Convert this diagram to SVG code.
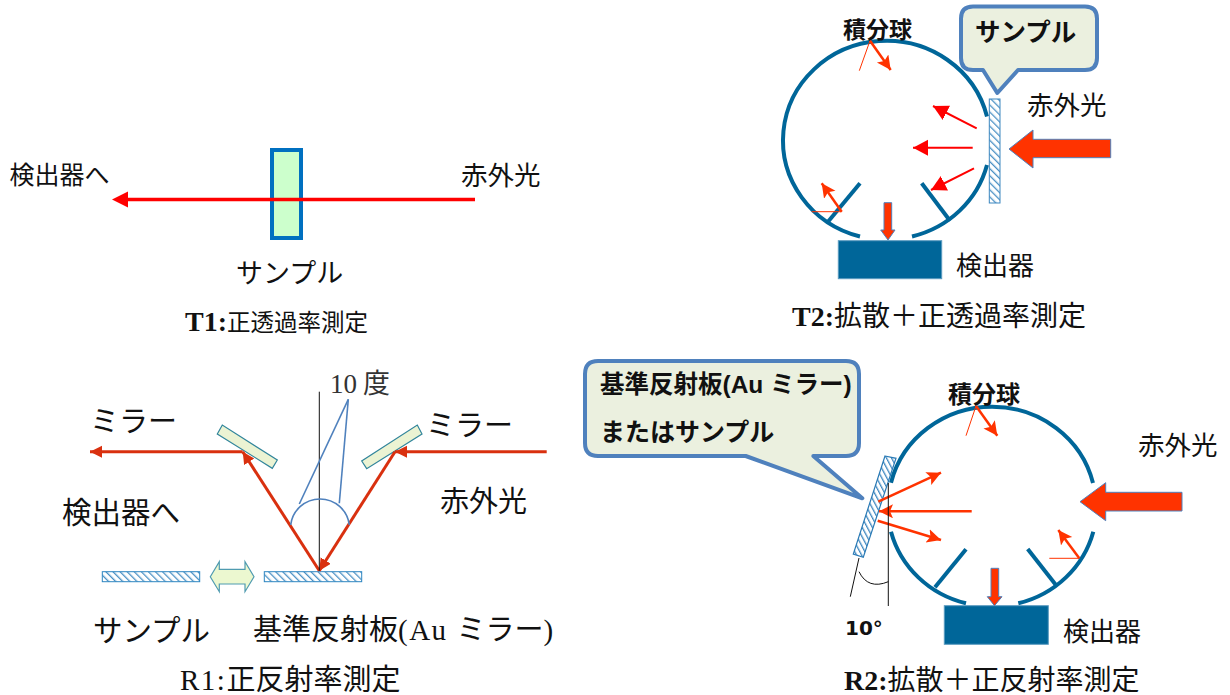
<svg xmlns="http://www.w3.org/2000/svg" width="1230" height="695" viewBox="0 0 1230 695">
<style>
text{font-family:"Noto Sans CJK JP","Noto Sans",sans-serif;fill:#111}
.m{font-family:"Liberation Serif","Noto Sans CJK JP",serif}
.g{font-family:"Liberation Sans","Noto Sans CJK JP",sans-serif}
.b{font-weight:700}
.sph{fill:none;stroke:#006699;stroke-width:4}
.det{fill:#006699;stroke:#5b9bc0;stroke-width:1}
.call{fill:#ebf0df;stroke:#4f81bd;stroke-width:4;stroke-linejoin:round}
.big{fill:#ff3300;stroke:#4f81bd;stroke-width:1}
.r{fill:none;stroke:#ff0000;stroke-width:2;marker-end:url(#ar)}
.o{fill:none;stroke:#ff3300;stroke-width:2.500;marker-end:url(#ao)}
.t{fill:none;stroke:#ff3300;stroke-width:1}
.d{fill:none;stroke:#d9300f;stroke-width:3;marker-end:url(#ad)}
.k{fill:none;stroke:#111;stroke-width:1}
.bl{fill:none;stroke:#4f81bd;stroke-width:1.600}
.mir{fill:#ebf3d3;stroke:#31859b;stroke-width:1.200}
</style>
<defs>
<marker id="ar" markerUnits="userSpaceOnUse" markerWidth="18" markerHeight="18" refX="15" refY="8" orient="auto"><path d="M0 0L15 8L0 16Z" fill="#ff0000"/></marker>
<marker id="am" markerUnits="userSpaceOnUse" markerWidth="18" markerHeight="18" refX="10" refY="8" orient="auto"><path d="M0 0L16 8L0 16Z" fill="#ff0000"/></marker>
<marker id="ao" markerUnits="userSpaceOnUse" markerWidth="16" markerHeight="16" refX="14" refY="7" orient="auto"><path d="M0 0L14 7L0 14L3 7Z" fill="#ff3300"/></marker>
<marker id="ad" markerUnits="userSpaceOnUse" markerWidth="14" markerHeight="14" refX="12" refY="6" orient="auto"><path d="M0 0L12 6L0 12Z" fill="#d9300f"/></marker>
<pattern id="h1" width="5" height="5" patternUnits="userSpaceOnUse" patternTransform="rotate(-45)"><rect width="5" height="5" fill="#fff"/><line x1="0" y1="0" x2="0" y2="5" stroke="#4a90c4" stroke-width="2.600"/></pattern>
<pattern id="h3" width="4.500" height="4.500" patternUnits="userSpaceOnUse" patternTransform="rotate(-28)"><rect width="4.500" height="4.500" fill="#fff"/><line x1="0" y1="0" x2="0" y2="4.500" stroke="#3d87c0" stroke-width="2.600"/></pattern>
</defs>

<g id="t1-sample"><rect x="272" y="150" width="29" height="88" fill="#ccffcc" stroke="#0070c0" stroke-width="4"/></g>
<g id="t1-labels">
<text x="9.500" y="184" font-size="25">検出器へ</text>
<text x="461" y="185" font-size="26.500">赤外光</text>
<text x="236" y="283" font-size="27">サンプル</text>
<text class="m" x="185" y="331" font-size="28"><tspan class="b">T1:</tspan><tspan font-size="23.500">正透過率測定</tspan></text>
</g>

<g id="t2-sphere">
<path class="sph" d="M987 116.500A103.500 99.500 0 1 0 860 236.500"/>
<path class="sph" d="M912 236.500A103.500 99.500 0 0 0 987 165"/>
<path class="sph" d="M860 183.300L828 221.700"/>
<path class="sph" d="M921.700 183.300L950 220.700"/>
</g>
<g id="t2-detector"><rect class="det" x="838.300" y="240.700" width="103.400" height="38"/></g>
<g id="t2-down"><path class="big" d="M884 202.700H891.700V230H895L888 240L880.700 230H884Z"/></g>
<g id="t2-sample"><rect x="989.300" y="99" width="10.700" height="104" fill="url(#h1)" stroke="#3d87c0" stroke-width="1"/></g>
<g id="t2-beam"><path class="big" d="M1009 149L1033 130V139.300H1110.700V157.700H1033V168Z"/></g>
<g id="t2-callout"><path class="call" d="M973 6.500H1085Q1097 6.500 1097 18.500V58Q1097 70 1085 70H1018L997.300 93L983 70H973Q961 70 961 58V18.500Q961 6.500 973 6.500Z"/></g>
<g id="t2-labels">
<text class="b" x="843" y="38" font-size="23">積分球</text>
<text class="b" x="975" y="41" font-size="25.500">サンプル</text>
<text x="1027" y="115" font-size="26.500">赤外光</text>
<text x="956" y="275" font-size="26">検出器</text>
<text class="m" x="792" y="326" font-size="28"><tspan class="b">T2:</tspan>拡散＋正透過率測定</text>
</g>

<g id="r1-mirror-left"><path class="mir" d="M217.300 434L222.300 425L277.300 460L272.300 468.300Z"/></g>
<g id="r1-mirror-right"><path class="mir" d="M361.700 461L366.700 468.700L422 434L417.300 425Z"/></g>
<g id="r1-sample"><rect x="102.300" y="571.700" width="97.400" height="10" fill="url(#h1)" stroke="#2e86c1" stroke-width="1"/></g>
<g id="r1-reference"><rect x="264.300" y="571.700" width="97.400" height="10" fill="url(#h1)" stroke="#2e86c1" stroke-width="1"/></g>
<g id="r1-swap"><path d="M210.300 576.700L219.300 561.700V569.300H245V561.700L254 576.700L245 591.700V584H219.300V591.700Z" fill="#ecf8d0" stroke="#4f9bb0" stroke-width="1.200"/></g>
<g id="r1-labels">
<text x="330" y="393" font-size="27" style="fill:#333"><tspan class="m">10</tspan> 度</text>
<text x="90" y="432" font-size="29">ミラー</text>
<text x="426" y="436" font-size="29">ミラー</text>
<text x="440" y="512" font-size="29">赤外光</text>
<text x="62" y="523" font-size="29.500">検出器へ</text>
<text x="93" y="641" font-size="29.500">サンプル</text>
<text class="m" x="253" y="640" font-size="29">基準反射板<tspan letter-spacing="1.500">(Au </tspan>ミラー)</text>
<text class="m" x="180" y="690" font-size="29"><tspan letter-spacing="1.500">R1:</tspan>正反射率測定</text>
</g>

<g id="r2-callout"><path class="call" d="M598 361H846Q859 361 859 374V443Q859 456 846 456H813.300L862.300 498.300L745.700 456H598Q585 456 585 443V374Q585 361 598 361Z"/></g>
<g id="r2-sample"><path d="M885 456L896 458.300L863.300 557.300L853.300 554Z" fill="url(#h3)" stroke="#2a7ab5" stroke-width="1.200"/></g>
<g id="r2-sphere">
<path class="sph" d="M1093 483A104 100 0 0 0 891 482.700"/>
<path class="sph" d="M891 531.700A104 100 0 0 0 966 603.300"/>
<path class="sph" d="M1018.300 603.300A104 100 0 0 0 1093.300 531.700"/>
<path class="sph" d="M966 549.300L935 587.300"/>
<path class="sph" d="M1027.700 549L1056.700 586"/>
</g>
<g id="r2-detector"><rect class="det" x="944.300" y="605.700" width="104" height="38.600"/></g>
<g id="r2-down"><path class="big" d="M991 568.300H998.700V596.700H1002L994.500 605.700L987.300 596.700H991Z"/></g>
<g id="r2-beam"><path class="big" d="M1080 501.700L1105.700 482.700V492.300H1182V511H1105.700V520.700Z"/></g>
<g id="r2-labels">
<text class="b g" x="600" y="393" font-size="24.500">基準反射板(Au ミラー)</text>
<text class="b g" x="600" y="441" font-size="25">またはサンプル</text>
<text class="b" x="948" y="403" font-size="24">積分球</text>
<text x="1138" y="455" font-size="26.500">赤外光</text>
<text x="1063" y="641" font-size="26">検出器</text>
<text x="845" y="635" font-size="20" font-weight="700" style="font-family:'DejaVu Sans',sans-serif">10°</text>
<text class="m" x="844" y="690" font-size="28"><tspan class="b">R2:</tspan>拡散＋正反射率測定</text>
</g>

<g id="connectors">
<path d="M475 199.500L118 199.500" fill="none" stroke="#ff0000" stroke-width="3.500" marker-end="url(#am)"/>
<path class="r" d="M976.700 128.300L933 106"/>
<path class="r" d="M972.700 147.700L913 147.700"/>
<path class="r" d="M974 168.300L931 190"/>
<path class="t" d="M859.300 70.700L870 40.700"/>
<path class="o" d="M870 40.700L890.700 70"/>
<path class="t" d="M811.700 211.700L841.700 211.700"/>
<path class="o" d="M841.700 211.700L821.700 183.300"/>
<path class="d" d="M546.700 451.700L395 451.700"/>
<path class="d" d="M395 451.700L319.300 570.700"/>
<path class="d" d="M319.300 570.700L242.700 451.700"/>
<path class="d" d="M242.700 451.700L90 451.700"/>
<path class="k" d="M319.300 391.700L319.300 570.700"/>
<path class="bl" d="M290.700 525A29.500 29.500 0 0 1 349.300 525"/>
<path class="bl" d="M348.300 399.300L299.300 504"/>
<path class="bl" d="M348.300 399.300L339.300 503.300"/>
<path class="o" d="M878.300 501.700L941 472.700"/>
<path class="o" d="M971.700 511.300L879 511.300"/>
<path class="o" d="M877.700 520.700L941 540"/>
<path class="t" d="M966 435.700L976 406"/>
<path class="o" d="M976 406L997.300 435.700"/>
<path class="t" d="M1049.300 558.300L1079.300 558.300"/>
<path class="o" d="M1079.300 558.300L1058.300 530"/>
<path class="k" d="M888.300 483L888.300 606"/>
<path class="k" d="M859 558L850.300 596.700"/>
<path class="k" d="M859 571.700Q868 590 888.300 581.700"/>
</g>
</svg>
